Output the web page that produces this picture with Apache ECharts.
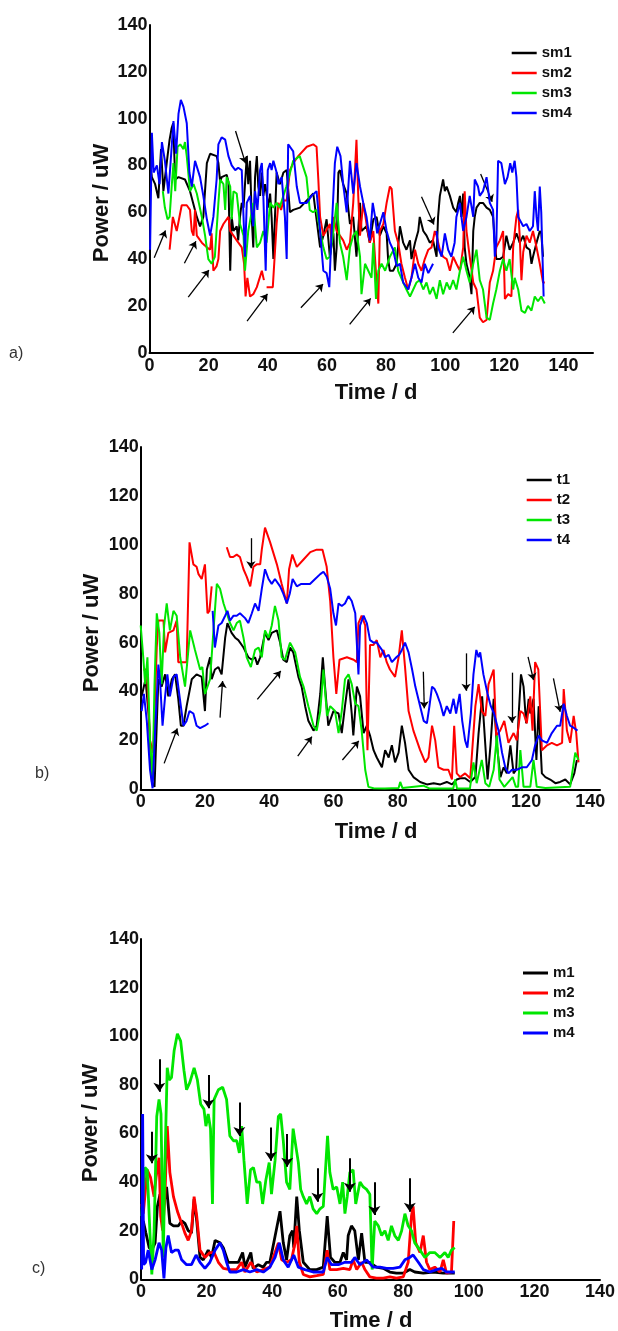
<!DOCTYPE html>
<html><head><meta charset="utf-8">
<script src="https://cdn.jsdelivr.net/npm/echarts@6/dist/echarts.min.js"></script>
<style>html,body{margin:0;padding:0;background:#fff}#c{width:618px;height:1331px}</style>
</head><body><div id="c"></div>
<script>
// ---------- data (day, power uW) ----------
const sm1 = [[0.2,81],[0.8,75],[1.9,72],[3.0,66],[3.9,87],[4.7,69],[6.1,84],[6.8,91],[7.5,96],[8.0,98],[8.7,74],[9.8,75],[12.0,74],[13.7,69],[16.0,58],[17.1,54],[18.2,58],[19.4,81],[20.5,85],[22.7,84],[23.3,81],[23.9,73],[24.4,75],[26.1,76],[26.7,73],[27.3,35],[27.8,58],[28.4,52],[29.5,54],[30.0,48],[30.6,58],[31.2,64],[31.8,62],[32.9,84],[33.4,72],[34.0,82],[34.6,57],[35.1,45],[35.7,75],[36.3,84],[36.8,71],[37.4,67],[38.0,77],[38.5,67],[39.1,72],[39.6,68],[40.2,62],[40.8,68],[41.3,58],[41.9,40],[43.0,77],[44.1,72],[45.3,77],[46.4,78],[47.5,60],[48.6,61],[50.9,62],[53.2,65],[55.4,68],[57.7,45],[58.8,50],[59.9,57],[61.0,41],[62.2,51],[62.7,35],[63.3,45],[63.9,77],[64.4,78],[65.5,72],[66.7,68],[67.2,62],[67.8,55],[68.9,58],[70.0,41],[71.2,64],[71.7,52],[73.4,54],[74.5,47],[75.7,57],[76.8,58],[77.9,50],[79.1,54],[80.2,51],[80.7,40],[81.3,35],[82.4,35],[83.6,38],[84.7,54],[85.8,47],[86.9,44],[88.1,48],[88.6,40],[89.8,47],[90.9,52],[91.4,58],[92.6,52],[93.7,50],[94.8,47],[95.9,48],[97.1,41],[97.6,58],[98.2,67],[99.3,74],[99.9,69],[100.5,71],[101.6,67],[102.7,62],[103.8,60],[104.4,64],[105.0,67],[105.5,58],[106.1,68],[106.6,45],[107.2,38],[107.8,35],[108.3,32],[108.9,25],[109.5,52],[110.0,58],[110.6,62],[111.7,64],[112.8,64],[114.0,62],[115.1,61],[116.2,58],[116.8,47],[117.3,40],[118.5,40],[119.6,41],[120.7,50],[121.8,44],[123.0,47],[124.1,51],[124.7,49],[125.2,47],[126.4,50],[127.5,45],[128.6,44],[129.2,38],[129.7,41],[130.9,47],[132.0,52],[132.5,51],[133.1,41]];
const sm2 = [[6.8,44],[7.9,58],[9.2,52],[10.9,63],[12.6,63],[13.7,61],[14.3,52],[14.9,50],[15.4,61],[16.0,50],[17.7,47],[19.4,45],[20.5,44],[21.0,51],[21.6,35],[22.7,37],[23.3,40],[23.9,52],[25.0,55],[26.7,58],[27.3,52],[28.4,50],[29.5,48],[31.2,45],[32.0,38],[32.5,24],[33.1,32],[34.0,24],[35.1,25],[36.3,28],[38.0,35],[38.7,31],[39.2,null],[39.6,28],[41.7,28],[43.0,55],[43.6,64],[44.5,61],[45.3,65],[46.4,65],[47.5,78],[48.6,81],[50.3,84],[53.2,88],[55.4,89],[56.5,88],[57.1,74],[57.7,58],[58.8,50],[61.0,55],[61.6,47],[62.2,58],[63.3,52],[64.4,50],[65.5,48],[66.7,44],[67.8,47],[68.9,64],[69.5,78],[70.0,91],[70.6,67],[71.2,50],[72.3,64],[73.4,55],[74.5,47],[75.7,52],[76.8,30],[77.4,21],[77.9,52],[79.1,55],[80.2,64],[81.3,71],[81.9,70],[83.0,52],[84.1,47],[85.2,38],[86.4,32],[87.5,27],[88.6,32],[89.8,44],[90.9,38],[92.0,35],[93.1,40],[94.3,44],[95.4,45],[96.5,52],[97.1,50],[98.2,44],[99.3,41],[100.5,40],[101.6,35],[102.7,41],[103.8,38],[105.0,35],[106.1,45],[106.6,69],[107.2,52],[108.3,41],[109.5,30],[110.6,27],[111.7,15],[112.8,13],[114.0,14],[115.1,30],[116.2,35],[117.3,45],[118.5,48],[119.6,52],[120.2,23],[121.3,25],[122.4,24],[123.0,45],[124.1,58],[124.7,61],[125.2,50],[125.8,31],[126.4,43],[127.5,50],[128.6,47],[129.7,52],[130.9,45],[132.0,38],[133.1,30],[133.7,30]];
const sm3 = [[4.5,69],[5.2,62],[6.1,57],[6.8,58],[7.5,71],[8.1,81],[8.7,69],[9.5,88],[10.4,89],[11.5,87],[12.0,90],[12.6,84],[13.7,69],[14.9,72],[16.0,68],[17.7,58],[18.8,50],[19.9,40],[21.0,38],[22.1,41],[23.3,64],[23.9,74],[25.0,72],[25.6,61],[26.1,75],[27.3,71],[27.8,57],[28.4,69],[29.5,68],[30.6,55],[31.8,50],[32.3,35],[33.4,52],[35.1,64],[36.3,45],[37.4,47],[38.5,52],[39.6,47],[40.8,64],[41.9,62],[43.0,64],[44.0,62],[46.3,71],[48.6,82],[50.8,84],[53.1,75],[54.2,61],[55.3,60],[56.5,61],[57.7,52],[58.8,45],[59.9,40],[61.0,41],[62.2,52],[63.3,64],[64.4,47],[65.5,41],[66.7,31],[67.8,45],[68.9,50],[70.0,52],[71.2,41],[71.7,25],[72.9,38],[74.0,35],[75.1,32],[75.7,47],[76.6,23],[77.4,35],[78.5,38],[79.7,35],[81.3,41],[83.0,45],[84.1,35],[85.8,30],[86.9,27],[88.1,24],[89.2,27],[90.3,30],[91.4,31],[92.6,27],[93.7,30],[94.8,25],[95.9,28],[97.1,23],[98.2,31],[99.3,25],[100.5,30],[101.6,27],[102.7,31],[103.8,27],[105.0,35],[106.1,41],[107.2,35],[108.3,30],[109.5,38],[110.6,44],[111.7,31],[112.8,27],[114.0,15],[115.1,14],[116.2,21],[117.3,27],[118.5,35],[119.6,40],[120.7,35],[121.8,40],[123.0,27],[123.5,32],[124.7,27],[125.8,18],[127.0,17],[128.0,20],[129.2,18],[130.3,24],[131.4,22],[132.5,24],[133.7,21]];
const sm4 = [[0.2,44],[0.8,94],[1.4,77],[2.5,80],[3.4,72],[4.2,90],[5.2,82],[6.4,68],[7.5,88],[8.1,99],[9.0,85],[9.8,102],[10.6,108],[11.5,105],[12.6,98],[13.5,77],[14.3,71],[15.4,82],[16.0,82],[17.1,75],[18.2,67],[19.4,57],[20.5,50],[21.6,58],[22.7,74],[23.3,89],[24.4,92],[25.6,91],[26.7,84],[27.8,80],[29.0,78],[30.0,79],[31.2,78],[31.8,58],[32.3,41],[32.9,64],[34.0,67],[35.1,54],[35.7,69],[36.5,61],[37.4,78],[38.0,81],[38.5,67],[39.3,35],[40.0,78],[40.8,81],[41.3,78],[41.9,82],[43.0,77],[43.6,72],[44.7,75],[45.8,58],[46.4,40],[46.9,89],[47.5,88],[48.6,86],[49.8,71],[50.9,64],[53.2,64],[54.8,67],[56.5,69],[57.7,52],[58.8,35],[59.9,34],[60.8,28],[61.6,52],[62.7,81],[63.5,88],[64.6,84],[65.5,72],[66.7,60],[67.8,82],[68.9,68],[70.0,81],[71.2,71],[72.3,64],[73.4,58],[74.5,48],[75.5,64],[76.3,58],[77.0,51],[77.9,55],[79.1,60],[80.2,52],[81.3,47],[82.4,44],[83.6,37],[84.7,38],[85.8,30],[87.5,27],[88.6,32],[89.8,38],[90.9,32],[92.0,30],[93.1,38],[94.3,34],[95.9,38],[96.5,null],[97.1,52],[97.6,45],[98.8,41],[99.9,51],[101.0,44],[102.1,41],[103.2,47],[103.8,58],[105.0,64],[105.5,58],[106.1,52],[107.2,58],[108.3,67],[109.5,58],[110.0,74],[111.1,71],[111.7,67],[112.8,69],[114.0,75],[115.1,64],[116.2,61],[116.8,41],[117.3,47],[117.9,82],[119.0,81],[120.2,72],[121.1,75],[122.0,81],[122.7,77],[123.5,82],[124.1,75],[124.7,58],[126.4,54],[127.5,55],[128.6,52],[129.7,54],[130.3,69],[130.9,58],[131.4,52],[132.0,71],[132.5,60],[133.3,24]];

const t1 = [[0.3,38],[1.5,45],[2.5,30],[3.5,3],[4.3,1],[5.5,45],[6.5,42],[7.6,47],[8.6,38],[9.7,45],[10.7,47],[11.7,37],[12.5,26],[13.3,26],[14.3,34],[15.9,45],[17.4,47],[19.0,46],[20.0,32],[20.6,49],[21.6,54],[22.1,45],[23.1,49],[24.2,50],[25.2,47],[26.3,62],[27.0,68],[28.3,64],[29.4,62],[30.4,61],[32.0,58],[33.5,54],[34.6,53],[35.6,54],[36.3,51],[37.2,54],[38.7,64],[39.8,61],[40.8,64],[42.4,65],[43.4,60],[44.4,53],[45.5,52],[46.5,58],[47.5,56],[49.1,46],[50.1,42],[51.2,34],[52.2,28],[53.8,24],[54.8,26],[55.9,39],[56.7,54],[57.4,42],[58.4,26],[60.0,32],[61.6,31],[62.6,23],[63.6,34],[64.7,45],[65.7,31],[66.2,22],[67.3,42],[68.3,38],[69.4,23],[70.4,26],[71.4,22],[72.5,16],[73.5,13],[75.1,9],[76.1,16],[77.2,13],[78.2,18],[79.2,11],[80.3,15],[81.3,26],[82.3,19],[83.4,8],[84.9,5],[87.0,3],[89.1,2],[91.2,2.5],[93.3,2],[95.3,3],[96.9,2],[98.4,4],[99.5,4.5],[101.0,4.5],[102.6,3],[104.2,5],[105.2,23],[106.3,38],[107.3,18],[108.0,4],[108.9,18],[109.9,37],[110.9,18],[112.0,5],[113.0,9],[114.0,6.5],[115.1,18],[116.1,6.5],[116.9,8],[117.7,31],[118.4,47],[119.2,42],[120.0,27],[120.8,37],[121.3,31],[122.3,37],[123.2,12],[123.9,34],[124.9,6.5],[126.0,5],[127.5,4],[129.1,2.5],[130.6,3],[132.2,4],[133.7,2],[135.0,6.5],[135.8,12]];
const t2 = [[0.8,49],[1.9,49],[2.9,20],[3.9,15],[5.0,58],[5.5,69],[7.1,69],[7.6,56],[8.6,64],[10.2,65],[11.2,69],[11.7,52],[13.3,52],[14.3,52],[15.2,101],[16.4,92],[17.4,91],[18.0,88],[19.0,86],[20.0,92],[20.8,72],[21.4,73],[22.1,83],[24.0,null],[26.8,99],[27.8,95],[28.8,95],[29.9,96],[30.9,95],[32.0,90],[33.0,87],[34.1,83],[35.1,91],[36.1,92],[37.2,92],[37.7,98],[38.7,107],[40.3,101],[42.4,92],[43.9,84],[45.5,76],[46.2,90],[47.2,96],[48.6,91],[50.7,94],[52.8,97],[54.8,98],[56.6,98],[57.9,91],[59.0,77],[60.0,54],[60.9,39],[61.9,53],[64.2,54],[66.3,53],[67.3,52],[67.8,68],[68.8,71],[69.9,67],[70.6,16],[71.4,59],[72.4,59],[73.5,61],[74.6,54],[75.6,57],[76.6,52],[77.6,49],[79.2,46],[80.3,54],[81.3,65],[82.3,50],[83.4,32],[84.9,24],[87.0,16],[88.6,11],[89.6,13],[90.7,26],[91.7,20],[92.7,9],[94.3,8],[95.8,8],[96.9,4],[97.6,26],[98.4,6.5],[99.5,5],[101.0,6.5],[102.6,4.5],[104.2,34],[105.2,43],[106.2,32],[107.3,30],[108.3,43],[109.9,49],[110.7,22],[111.9,24],[113.2,28],[114.5,19],[116.1,23],[117.1,20],[118.2,32],[119.2,31],[120.2,27],[121.3,38],[122.0,24],[122.8,52],[123.8,49],[124.9,16],[126.5,18],[128.0,19],[129.6,18],[131.2,19],[131.7,41],[132.7,24],[133.7,19],[134.8,30],[135.6,23],[136.3,11]];
const t3 = [[0,67],[0.8,54],[1.4,43],[2.1,54],[2.9,20],[3.7,4],[4.3,43],[5.0,72],[5.8,64],[6.5,43],[7.3,67],[8.1,76],[9.1,65],[10.2,73],[11.2,71],[12.3,54],[13.8,42],[15.4,65],[16.9,57],[18.5,49],[19.2,50],[20.0,39],[21.6,45],[22.6,64],[23.7,84],[24.7,82],[25.8,76],[26.8,72],[27.8,68],[28.9,65],[29.9,68],[30.9,69],[32.0,62],[33.0,54],[34.3,50],[35.6,57],[36.7,58],[37.7,54],[38.7,65],[39.8,62],[40.8,67],[41.8,75],[42.9,69],[43.9,54],[44.9,53],[46.5,60],[48.1,56],[49.6,46],[50.7,42],[52.2,34],[53.8,26],[54.8,24],[55.9,32],[56.9,49],[58.0,30],[59.0,34],[60.5,32],[61.6,23],[62.6,32],[63.6,45],[64.7,47],[65.7,43],[66.8,35],[67.8,34],[68.8,24],[69.9,8],[70.9,1],[72.5,0.4],[76.0,0.3],[80.3,0.5],[80.8,3],[81.5,0.5],[88.0,1.5],[90.0,0.3],[97.3,0.3],[97.9,4],[98.5,0.3],[102.5,0.3],[103.6,11],[104.6,2.5],[106.2,12],[107.3,2.5],[108.5,1],[109.9,8],[110.9,22],[111.7,4],[113.2,1],[115.8,5],[116.8,1],[117.5,1],[118.2,16],[119.2,1],[121.3,1],[122.3,12],[123.3,1],[126.0,0.5],[133.7,1],[135.3,15],[136.3,12]];
const t4 = [[0.3,32],[1.0,39],[1.9,28],[2.9,8],[3.7,0.4],[4.5,24],[5.5,51],[6.0,45],[6.8,26],[7.6,38],[8.3,47],[9.1,38],[10.2,46],[11.2,47],[12.2,37],[13.3,26],[14.3,28],[15.2,32],[16.4,31],[17.4,26],[18.5,25],[20.0,26],[21.1,27],[21.8,null],[22.4,73],[23.1,58],[24.2,67],[25.2,68],[26.3,71],[27.0,73],[27.8,69],[28.9,71],[29.9,71],[30.9,72],[32.5,70],[33.5,68],[34.6,72],[35.6,76],[36.7,73],[37.7,82],[38.7,90],[39.8,86],[40.8,84],[41.8,86],[43.4,83],[44.4,80],[45.5,76],[46.4,80],[47.3,86],[48.6,83],[50.0,84],[51.2,84],[52.7,84],[54.3,86],[55.9,88],[56.9,89],[57.9,87],[59.0,82],[60.0,72],[60.8,67],[61.6,76],[62.6,75],[63.6,76],[64.7,79],[65.7,77],[66.8,72],[67.8,47],[68.3,67],[69.4,71],[70.4,68],[71.4,61],[72.5,60],[73.5,60],[75.1,57],[76.1,54],[77.2,55],[78.2,52],[79.6,54],[80.5,55],[81.3,57],[82.3,60],[83.4,56],[84.5,49],[85.5,42],[87.0,34],[88.1,28],[89.1,27],[89.9,34],[90.7,42],[91.5,41],[92.2,39],[93.3,35],[94.3,30],[95.3,34],[96.4,31],[97.4,37],[98.2,31],[99.3,39],[100.1,28],[101.0,20],[101.7,17],[102.8,31],[103.6,47],[104.5,57],[105.2,54],[105.7,56],[106.7,47],[108.0,39],[109.0,34],[110.0,31],[111.4,24],[112.5,15],[113.5,9],[114.5,6.5],[115.6,8],[117.1,8],[118.7,9],[120.2,9],[121.8,12],[122.8,18],[123.9,22],[124.9,20],[126.5,19],[128.0,23],[129.6,26],[130.6,26],[131.7,35],[132.7,30],[133.7,26],[135.0,25],[136.0,24]];

const m1 = [[0.2,18],[0.7,24],[1.5,19],[2.5,13],[3.3,12],[4.3,15],[5.0,30],[5.8,35],[6.3,28],[7.0,31],[7.8,38],[8.8,23],[9.9,22],[11.4,22],[12.4,24],[13.4,23],[14.4,20],[15.4,19],[16.2,33],[17.0,24],[18.0,9],[19.0,8],[20.5,12],[21.5,9],[22.6,16],[24.1,15],[25.1,13],[26.6,7],[28.2,7],[29.7,7],[31.0,11],[31.7,5],[33.5,11],[34.2,4.5],[35.8,6],[37.3,5],[38.3,7],[39.3,7],[40.5,15],[42.4,28],[43.4,15],[44.4,8],[45.4,18],[46.2,20],[46.6,13],[47.5,34],[48.3,20],[49.5,7],[51.5,4],[53.6,4],[55.6,5],[56.8,26],[57.8,9],[59.1,7],[60.7,7],[61.7,11],[62.7,8],[63.2,18],[64.2,22],[65.2,20],[66.3,8],[67.3,19],[68.3,7],[69.8,7],[71.8,5],[73.9,4.5],[75.9,3],[77.9,2.5],[80.0,2.5],[82.0,4],[83.5,3],[86.1,2.5],[89.1,3],[92.2,2.5],[95.7,2.5]];
const m2 = [[0.2,31],[0.7,27],[1.9,45],[2.9,42],[4.0,34],[4.6,42],[5.5,50],[6.0,26],[6.6,20],[7.3,34],[8.0,63],[8.8,44],[9.9,34],[11.1,28],[12.4,23],[13.4,19],[14.4,16],[15.4,20],[16.2,34],[17.0,26],[18.0,12],[19.5,9],[21.0,11],[22.3,11],[23.6,7],[25.1,4.5],[27.1,4],[29.2,4],[30.7,7],[31.7,3],[33.5,7],[35.3,3],[37.3,4],[39.3,5],[41.9,15],[42.9,8],[44.4,7],[45.9,8],[47.0,15],[47.5,22],[48.3,7],[49.5,2],[51.5,1],[53.6,1.5],[55.6,2],[56.8,12],[57.6,4],[59.7,4],[61.7,4.5],[63.7,4],[64.7,8],[65.8,4],[67.3,7],[68.3,4],[69.8,1],[71.8,0.5],[73.9,0.5],[75.9,1],[77.9,0.5],[80.0,1],[81.5,7],[82.5,26],[83.0,30],[83.8,15],[85.1,11],[86.1,18],[87.1,7],[88.1,4],[89.6,5],[91.2,3],[92.2,8],[93.2,2.5],[94.7,3],[95.4,24]];
const m3 = [[0.2,26],[1.2,46],[1.9,45],[2.5,26],[3.3,2],[4.0,20],[4.8,67],[5.5,74],[6.1,68],[6.8,9],[7.3,48],[8.0,87],[8.6,82],[9.3,83],[10.1,94],[11.1,101],[12.1,98],[13.1,86],[13.9,78],[14.9,81],[16.2,87],[17.2,82],[18.2,72],[19.2,70],[19.8,63],[20.5,68],[21.2,62],[21.8,31],[22.3,74],[23.6,78],[24.9,79],[26.1,74],[27.1,59],[28.2,57],[29.2,57],[30.0,52],[30.7,63],[31.4,49],[32.4,31],[33.4,45],[34.3,46],[35.3,40],[36.3,40],[37.1,31],[38.1,41],[39.1,48],[39.8,35],[40.9,49],[41.9,67],[42.6,68],[43.4,57],[44.4,40],[45.4,37],[46.4,62],[47.0,62],[48.0,48],[48.7,37],[49.5,34],[50.5,31],[51.5,34],[52.5,29],[53.6,27],[54.6,29],[55.6,30],[56.9,59],[57.6,44],[58.6,37],[59.7,38],[60.7,31],[61.5,40],[62.2,27],[62.9,34],[63.7,44],[64.7,45],[65.5,31],[66.8,40],[67.8,38],[68.8,37],[69.8,35],[70.5,4],[71.3,24],[72.4,22],[73.4,18],[74.4,20],[75.4,16],[76.4,22],[77.4,18],[78.5,16],[79.5,20],[80.5,27],[81.5,22],[82.5,20],[83.5,15],[85.1,12],[86.6,9],[88.1,11],[89.6,11],[91.2,9],[92.7,11],[93.7,9],[94.7,12],[95.7,13]];
const m4 = [[0.2,4],[0.5,68],[0.8,6],[1.4,7],[2.2,12],[3.3,4],[4.3,8],[5.5,15],[6.3,12],[7.0,0.4],[7.6,13],[8.3,18],[9.3,11],[10.4,12],[11.4,12],[12.4,8],[13.9,6],[15.4,6],[16.8,10],[18.0,7],[19.5,4.5],[21.0,7],[22.6,12],[24.1,15],[25.1,12],[26.1,7],[27.1,3],[29.2,3],[31.2,4],[33.2,3],[35.3,4],[37.3,3],[39.3,5],[40.9,9],[42.2,15],[43.4,8],[44.9,5],[46.6,10],[48.0,5],[50.0,4],[52.5,3],[55.6,3],[56.8,9],[58.1,6],[60.2,6],[62.2,7],[64.2,7],[65.2,9],[66.8,6],[68.8,8],[70.8,5],[72.9,5],[74.9,4.5],[76.9,4.5],[79.0,5],[80.5,8],[82.0,9],[83.0,10],[84.6,7],[86.1,4],[88.1,3],[90.1,4],[91.7,4.5],[93.2,3],[95.7,3]];

// annotation arrows [from, to] in data coordinates
const arrowsA = [[[1.6,40.6],[5.4,52.2]],[[11.8,38.2],[15.7,47.6]],[[13.1,23.7],[20.1,35.3]],[[33.0,13.5],[39.9,25.1]],[[51.2,19.2],[58.7,29.3]],[[67.7,12.1],[74.8,23.2]],[[102.6,8.5],[110.0,19.6]],[[29.1,94.7],[32.5,80.9]],[[92.0,66.6],[96.2,54.8]],[[112.0,76.3],[115.9,64.5]]];
const arrowsB = [[[7.3,10.6],[11.4,24.9]],[[24.7,29.3],[25.5,44.3]],[[36.3,36.8],[43.6,48.4]],[[34.3,102.7],[34.3,90.4]],[[48.9,13.6],[53.3,21.5]],[[62.8,12.0],[67.9,19.8]],[[88.0,48.1],[88.3,33.1]],[[101.3,55.6],[101.3,40.3]],[[115.6,47.7],[115.6,27.2]],[[120.6,54.2],[122.3,44.7]],[[128.5,45.4],[130.6,31.7]]];
const arrowsC = [[[3.3,60.7],[3.3,47.7]],[[5.6,90.5],[5.6,77.2]],[[20.6,84.1],[20.6,70.4]],[[30.0,72.7],[30.0,59.0]],[[39.6,62.4],[39.6,48.8]],[[44.6,59.8],[44.6,46.3]],[[53.8,45.7],[53.8,31.9]],[[63.7,49.8],[63.7,36.0]],[[71.2,39.9],[71.2,26.5]],[[82.0,41.6],[82.0,27.8]]];

const xMaxes = [150, 143, 140];
const yTicks = {min: 0, max: 140, interval: 20};
const namesA = ['sm1','sm2','sm3','sm4'];
const namesB = ['t1','t2','t3','t4'];
const namesC = ['m1','m2','m3','m4'];
const colors = ['#000000','#ff0000','#00e600','#0000ff'];

// ---------- layout ----------
const FONT = 'Liberation Sans, Arial, sans-serif';
const grids = [
  {left: 149.5, top: 25, width: 443.5, height: 327.7},
  {left: 140.7, top: 447, width: 459.3, height: 342.3},
  {left: 141, top: 939, width: 459, height: 340.3}
];
const axisLineStyle = {show: true, lineStyle: {color: '#000', width: 2}};
const labelStyle = {color: '#111', fontSize: 18, fontWeight: 'bold', fontFamily: FONT};

const xAxes = grids.map((g, i) => ({
  type: 'value', gridIndex: i, min: 0, max: xMaxes[i], interval: 20,
  axisLine: axisLineStyle, axisTick: {show: false}, splitLine: {show: false},
  axisLabel: Object.assign({margin: 4, formatter: v => (v % 20 === 0 ? String(v) : '')}, labelStyle)
}));
const yAxes = grids.map((g, i) => ({
  type: 'value', gridIndex: i, min: yTicks.min, max: yTicks.max, interval: yTicks.interval,
  axisLine: axisLineStyle, axisTick: {show: false}, splitLine: {show: false},
  axisLabel: Object.assign({margin: 2}, labelStyle)
}));

function arrowLines(list, width, size) {
  return {
    silent: true, animation: false, symbol: ['none', 'arrow'], symbolSize: size,
    lineStyle: {color: '#000', width: width, type: 'solid'},
    label: {show: false}, emphasis: {disabled: true},
    data: list.map(a => [{coord: a[0]}, {coord: a[1]}])
  };
}

const panels = [
  {names: namesA, data: [sm1, sm2, sm3, sm4], arrows: arrowsA, lw: 2, aw: 1.3, as: 7},
  {names: namesB, data: [t1, t2, t3, t4], arrows: arrowsB, lw: 2, aw: 1.3, as: 7},
  {names: namesC, data: [m1, m2, m3, m4], arrows: arrowsC, lw: 2.8, aw: 2, as: 9}
];
const series = [];
panels.forEach((p, gi) => {
  p.names.forEach((n, k) => {
    const s = {
      name: n, type: 'line', xAxisIndex: gi, yAxisIndex: gi, data: p.data[k],
      symbol: 'none', showSymbol: false, connectNulls: false,
      lineStyle: {color: colors[k], width: p.lw}, itemStyle: {color: colors[k]},
      animation: false, z: 2 + k
    };
    if (k === 0) s.markLine = arrowLines(p.arrows, p.aw, p.as);
    series.push(s);
  });
});

const legendTops = [40, 467, 960];
const legendLefts = [506.7, 521.7, 518];
const legends = panels.map((p, i) => ({
  data: p.names, orient: 'vertical', left: legendLefts[i], top: legendTops[i],
  icon: 'rect', itemWidth: 25, itemHeight: i === 2 ? 3 : 2.5, itemGap: 4,
  selectedMode: false,
  textStyle: {color: '#111', fontSize: 15, fontWeight: 'bold', fontFamily: FONT, lineHeight: 16, padding: [0,0,0,0]}
}));

const yTitlePos = [[102, 203], [92, 633], [91, 1123]];
const xTitlePos = [[376, 393], [376, 832], [371, 1321]];
const panelLetters = [['a)', 9, 354], ['b)', 35, 774], ['c)', 32, 1269]];
const graphic = [];
yTitlePos.forEach(p => graphic.push({
  type: 'text', x: p[0], y: p[1], rotation: Math.PI / 2,
  style: {text: 'Power / uW', fontSize: 22, fontWeight: 'bold', fontFamily: FONT, fill: '#111', align: 'center', verticalAlign: 'middle'}
}));
xTitlePos.forEach(p => graphic.push({
  type: 'text', x: p[0], y: p[1],
  style: {text: 'Time / d', fontSize: 22, fontWeight: 'bold', fontFamily: FONT, fill: '#111', align: 'center', verticalAlign: 'middle'}
}));
panelLetters.forEach(p => graphic.push({
  type: 'text', x: p[1], y: p[2],
  style: {text: p[0], fontSize: 16, fontFamily: FONT, fill: '#333', align: 'left', verticalAlign: 'middle'}
}));

const chart = echarts.init(document.getElementById('c'), null, {renderer: 'canvas'});
chart.setOption({
  backgroundColor: '#ffffff',
  animation: false,
  grid: grids,
  xAxis: xAxes,
  yAxis: yAxes,
  legend: legends,
  series: series,
  graphic: graphic
});
</script>
</body></html>
